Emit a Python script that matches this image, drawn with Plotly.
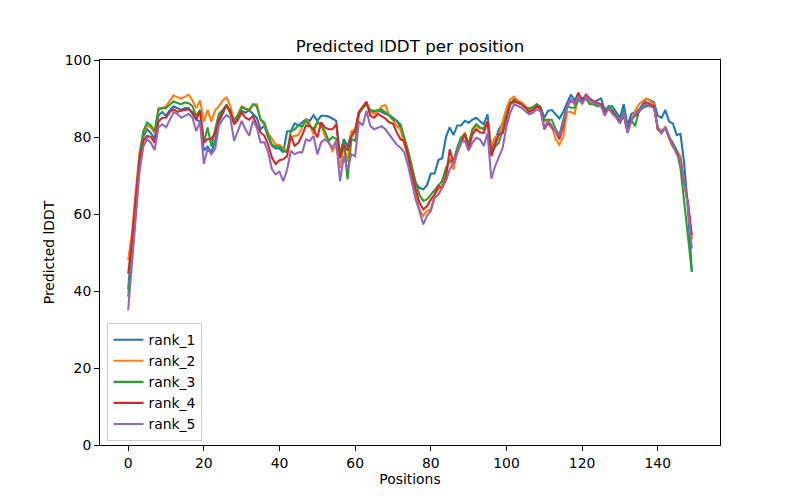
import plotly.graph_objects as go

positions = list(range(150))

rank_1 = [40.5, 52, 64, 74, 80, 82, 81, 79.5, 85.5, 86.5,
          85.5, 87, 88, 87.5, 87, 87.5, 87.5, 86, 84.5, 84,
          76.5, 77.5, 76, 79, 84, 86, 88.3, 86.3, 83.7, 85,
          86.8, 86.3, 87, 86, 85, 82, 82.9, 79.9, 77.7, 77,
          77, 76, 81.5, 81.5, 83.5, 83, 83.8, 84.6, 84.2, 85.7,
          84.2, 85.5, 85.5, 85.3, 84.8, 84.2, 75, 79.5, 77.5, 81,
          81.5, 86.5, 87.5, 88.5, 86.8, 86.5, 87, 86.4, 86, 85.8,
          85, 84.2, 82.5, 79.5, 76, 71.6, 68.1, 66.8, 66.4, 67.5,
          70.5, 70.5, 74, 74.5, 80, 82.5, 80.5, 83, 83, 84.2,
          83.7, 84.5, 85, 84.1, 83.3, 85.9, 76.5, 79, 82, 83.5,
          86, 88.5, 89.8, 89.5, 88.5, 88, 87, 87, 88.5, 87.8,
          85, 86.8, 87, 86, 84.8, 86.5, 89, 91, 89.5, 91,
          90, 90.5, 89.5, 89, 89.5, 90, 87, 88, 88, 86.5,
          85, 88.5, 83, 86, 86.5, 87, 88.5, 90, 89.5, 89,
          85.5, 85, 87, 84, 83.5, 80.5, 80.8, 73, 61, 45]

rank_2 = [48, 55, 66, 76, 81, 83, 82.5, 81, 87.5, 87.5,
          88, 89.5, 90.8, 90.3, 90, 90.5, 91, 89.5, 87.5, 89.5,
          84, 87, 84, 87, 88, 89.5, 90.3, 88, 84, 86,
          88, 87.5, 87, 88.5, 88.5, 84.5, 83, 81, 79.5, 78,
          78, 77, 76.5, 80, 80.3, 80.5, 82.5, 84.6, 83.5, 80.7,
          83.8, 83, 80.3, 78.6, 76.4, 77.7, 72, 78, 73.5, 81.5,
          82, 86.5, 87.5, 89, 86.5, 86, 86.5, 88, 88.3, 85.5,
          84.5, 82.8, 82, 78, 75, 70, 65, 61.2, 59.5, 60.8,
          61.2, 65, 66.4, 67.3, 71, 74.5, 71.5, 76.4, 79, 81.2,
          78, 81.6, 82.9, 82.2, 82.4, 84.1, 77.5, 80, 80.5, 84,
          87.5, 89.8, 90.5, 89.5, 89, 88, 86.5, 87.5, 88.3, 87,
          84, 84.5, 82.8, 79.4, 78, 80, 86.5, 86.5, 86, 90.5,
          89, 90, 89, 88.5, 88.5, 88, 86, 87.5, 86.5, 85.5,
          83.5, 86, 81.5, 84.5, 86.7, 88.5, 89.3, 90, 89.3, 88.5,
          82.5, 81.5, 82.5, 79.5, 77.5, 76.5, 75, 69, 62, 53.5]

rank_3 = [38.5, 50, 63, 75, 81.5, 83.8, 83, 81.5, 87, 87.5,
          87.5, 88.5, 89.3, 88.8, 88.5, 89, 88.8, 88, 85.5, 87,
          78.5, 82.5, 77.5, 82, 86, 87, 88.5, 86, 84.5, 85.5,
          87.7, 87.2, 87, 88.5, 88, 84.5, 83.8, 80.5, 78, 77.5,
          77.5, 76.5, 76, 81.5, 82, 83, 82.8, 84.2, 82.8, 82,
          84, 83, 81.5, 79, 80, 79.5, 76, 79, 69, 79.5,
          79, 86, 87.5, 88.5, 87, 86.8, 86.8, 87.2, 86.4, 85.5,
          84.5, 84.2, 83.3, 80, 76.4, 72.5, 68.1, 65, 63.4, 63.8,
          65, 66, 67.3, 68.6, 72, 73.8, 73.8, 77.3, 79.9, 80.7,
          78.2, 82, 83.3, 82.5, 82, 83.7, 76, 77.5, 78.5, 82,
          86, 88.9, 89.3, 88.9, 88.5, 87.6, 87.5, 87.8, 88.5, 87.6,
          84.5, 84.5, 84.5, 82, 80.5, 84.5, 88, 87.6, 87.6, 89.5,
          89.5, 90, 88.5, 88.5, 88, 88, 86.5, 88, 87, 85.5,
          84, 87, 82, 84.5, 82.8, 86.7, 87.5, 88, 88, 88,
          82, 81.5, 82.5, 80, 78.5, 76.5, 72, 63, 55, 45]

rank_4 = [44.5, 53, 64, 74, 79, 80.3, 80, 78.5, 84, 85,
          85, 86.5, 87.2, 86.5, 86.8, 87, 87.2, 86.5, 84.5, 86.8,
          78.5, 79.5, 79.5, 81, 84.5, 86.8, 88, 86.8, 83.3, 84.5,
          86.4, 85, 84.5, 85.5, 83, 81.2, 80.3, 78, 74.6, 73,
          74, 74.2, 75, 80.3, 77.7, 78.5, 80.5, 83, 82.8, 82,
          79.9, 83.8, 82.5, 82, 82, 83.3, 74.5, 78, 76.5, 80,
          81.5, 86.5, 88, 89.2, 85.5, 85, 86, 85.5, 84.8, 83.8,
          83.5, 81.2, 79.4, 79, 74.6, 70.3, 66.4, 63, 61.2, 62,
          63.8, 65, 67.3, 66.8, 69.4, 76.8, 73.3, 76, 78.6, 80.7,
          76.8, 80.7, 82, 81.2, 81.1, 84.1, 75, 78, 80.7, 81,
          85, 88.5, 89.3, 88.9, 88.5, 87.6, 86.5, 87, 88, 87.6,
          82, 83.7, 82.4, 81.5, 79.4, 82.8, 88, 89.3, 89, 91.5,
          89, 91, 90, 89.3, 88.8, 88.5, 86.3, 87.2, 86.7, 85.4,
          84, 85.5, 81.5, 84.5, 85.5, 86.5, 88, 89, 88.5, 88,
          82, 81, 82.5, 80, 77.5, 76, 74, 68, 63, 54.5]

rank_5 = [35, 47, 60, 71, 77.5, 79.4, 78.5, 76.6, 82.5, 83.3,
          82.5, 84.5, 86.4, 86, 85, 85.5, 86, 85, 81.5, 84,
          73, 77, 75.5, 77, 83, 84.6, 85.7, 85, 79, 81.5,
          84.2, 82, 80.3, 84.2, 82.5, 78.6, 78.6, 76, 71.6, 70.3,
          71, 68.5, 71.5, 76.4, 75.5, 76, 76, 79.4, 79, 80.3,
          75.5, 78.6, 79.4, 78.6, 77.2, 79, 68.5, 75, 71.5, 75.5,
          75, 84, 83, 86.8, 82.9, 82, 82.3, 82.8, 82, 80.7,
          79.5, 78, 77.2, 76, 72.5, 68.1, 63.8, 60.8, 57.3, 59.5,
          60.8, 64.2, 65, 66.8, 68.6, 71.6, 73.3, 76, 78.6, 79,
          76.4, 78.5, 79.8, 79.4, 77.7, 81, 69.2, 72.4, 75, 77.2,
          82.8, 86.3, 88.5, 88, 87.6, 86.7, 85.9, 86.3, 87.2, 86.7,
          82.4, 84.1, 82.8, 81.2, 80.2, 83.7, 87.6, 89.8, 88.5, 90.6,
          88.5, 90.5, 89.5, 89, 88.5, 88, 85.5, 87.5, 86, 85,
          83.5, 86.5, 81, 84, 86, 86.5, 88, 88.5, 88, 87.5,
          82.5, 81, 82.5, 80, 77.5, 75.5, 74, 68, 62, 51]

series = [("rank_1", rank_1, "#1f77b4"),
          ("rank_2", rank_2, "#ff7f0e"),
          ("rank_3", rank_3, "#2ca02c"),
          ("rank_4", rank_4, "#d62728"),
          ("rank_5", rank_5, "#9467bd")]

x_ticks = [0, 20, 40, 60, 80, 100, 120, 140]
y_ticks = [0, 20, 40, 60, 80, 100]

fig = go.Figure()
for name, vals, color in series:
    fig.add_trace(go.Scatter(x=positions, y=vals, mode="lines", name=name,
                             line=dict(color=color, width=2.1)))

font = dict(family="DejaVu Sans, sans-serif", size=13.9, color="black")
axis_common = dict(showline=True, linecolor="black", linewidth=1.1, mirror=True,
                   showgrid=False, zeroline=False, ticks="outside", ticklen=4.9,
                   tickwidth=1.1, tickcolor="black", tickfont=font, automargin=False)

fig.update_layout(
    width=800, height=500,
    margin=dict(l=100, r=80, t=60, b=55, autoexpand=False),
    paper_bgcolor="white", plot_bgcolor="white",
    font=font,
    title=dict(text="Predicted lDDT per position", x=0.5, xref="paper", xanchor="center",
               y=1 - 46 / 500, yref="container", yanchor="middle", automargin=False,
               font=dict(family="DejaVu Sans, sans-serif", size=16.7, color="black")),
    xaxis=dict(range=[-7.45, 156.45], tickvals=x_ticks,
               title=dict(text="Positions", font=font, standoff=4), **axis_common),
    yaxis=dict(range=[0, 100], tickvals=y_ticks,
               title=dict(text="Predicted lDDT", font=font, standoff=6), **axis_common),
    legend=dict(x=0.012, y=0.01, xanchor="left", yanchor="bottom",
                bgcolor="rgba(255,255,255,0.8)", bordercolor="#cccccc", borderwidth=1,
                font=font, tracegroupgap=0),
    showlegend=True,
)

fig.write_html("out.html", config={"displayModeBar": False},
               post_script="document.body.style.margin='0';")
